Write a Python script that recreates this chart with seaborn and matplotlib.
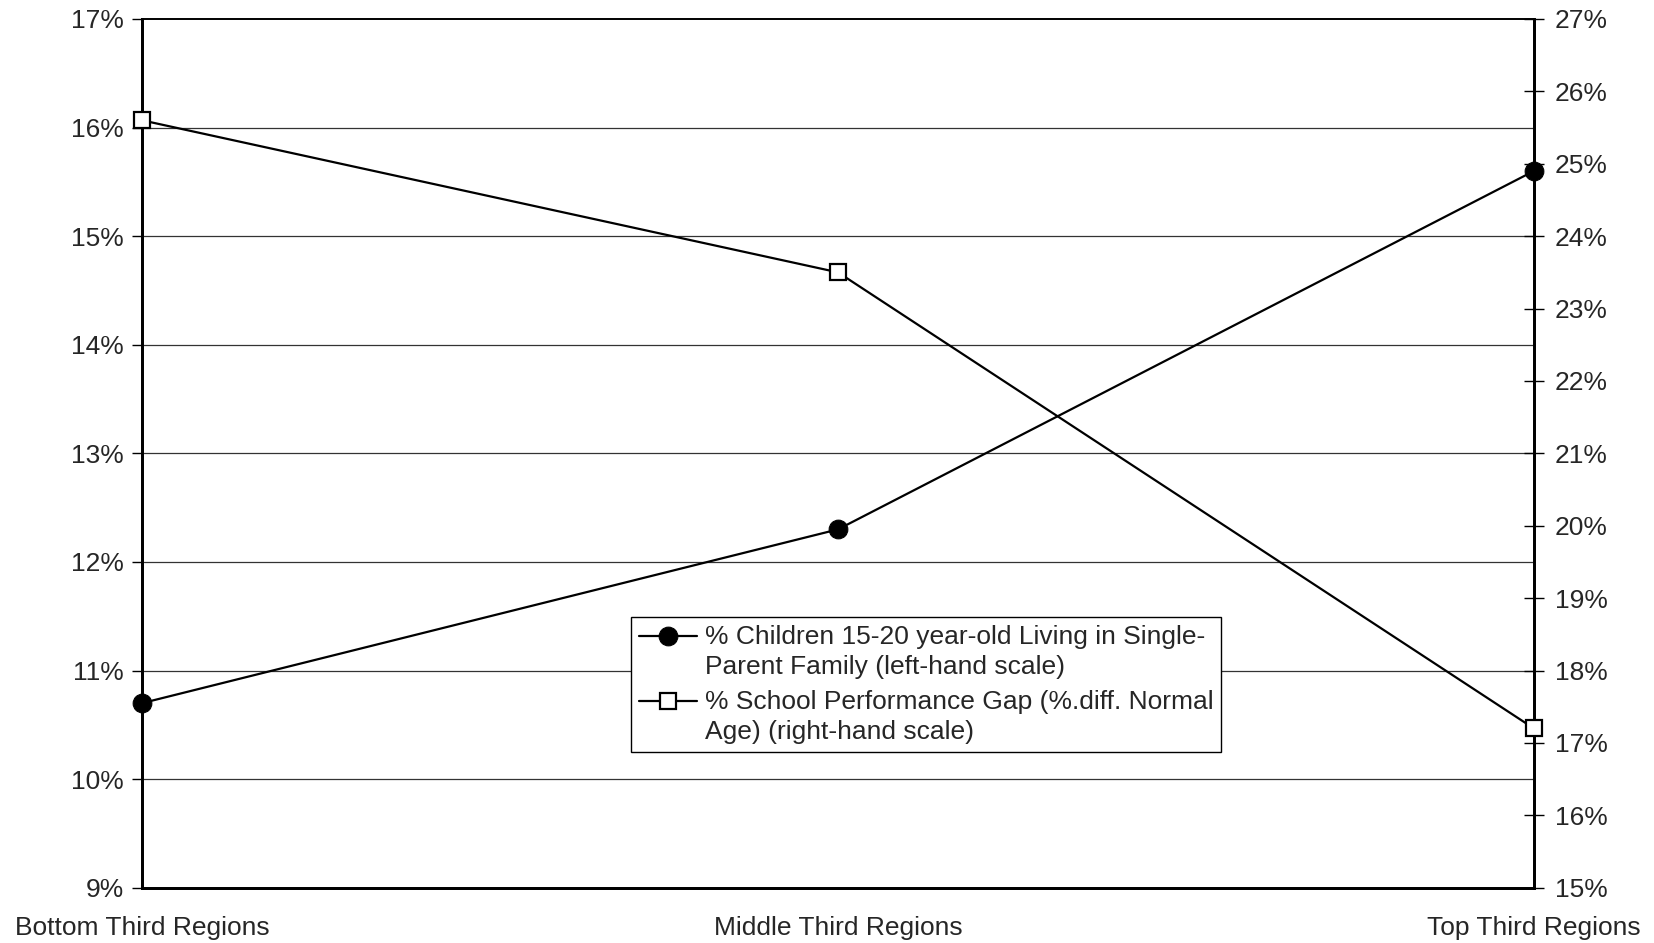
import matplotlib
matplotlib.use('Agg')
import matplotlib.pyplot as plt
import matplotlib.ticker as mticker
from matplotlib.legend_handler import HandlerLine2D
import seaborn as sns
import pandas as pd

regions = ["Bottom Third Regions", "Middle Third Regions", "Top Third Regions"]
single_parent = [10.7, 12.3, 15.6]
school_gap = [25.6, 23.5, 17.2]
label_left = "% Children 15-20 year-old Living in Single-\nParent Family (left-hand scale)"
label_right = "% School Performance Gap (%.diff. Normal\nAge) (right-hand scale)"

sns.set_style("white")
plt.rcParams['font.family'] = ['Liberation Sans', 'DejaVu Sans']
plt.rcParams['font.size'] = 19


class TopLineHandler(HandlerLine2D):
    # put the legend marker on the first text line, like Excel does
    def create_artists(self, legend, orig_handle, xdescent, ydescent, width, height, fontsize, trans):
        artists = super().create_artists(legend, orig_handle, xdescent, ydescent,
                                         width, height, fontsize, trans)
        for a in artists:
            a.set_ydata([y + fontsize * 0.62 for y in a.get_ydata()])
        return artists


df = pd.DataFrame({"Region": regions, "Single": single_parent, "Gap": school_gap})

fig, ax = plt.subplots(figsize=(16.54, 9.43), dpi=100)
fig.subplots_adjust(left=0.0859, right=0.9274, top=0.9799, bottom=0.0586)
ax2 = ax.twinx()

sns.lineplot(data=df, x="Region", y="Single", ax=ax, color="black", linewidth=1.6,
             marker="o", markersize=13.5, markerfacecolor="black", markeredgecolor="black",
             label=label_left, legend=False, sort=False)
sns.lineplot(data=df, x="Region", y="Gap", ax=ax2, color="black", linewidth=1.6,
             marker="s", markersize=11, markerfacecolor="white", markeredgecolor="black",
             markeredgewidth=1.6, label=label_right, legend=False, sort=False)
for line in ax.lines + ax2.lines:
    line.set_clip_on(False)
    line.set_zorder(5)

ax.set_xlim(0, 2)
ax.set_ylim(9, 17)
ax2.set_ylim(15, 27)
ax.set_yticks(range(9, 18))
ax2.set_yticks(range(15, 28))
fmt = mticker.FuncFormatter(lambda v, p: f"{v:.0f}%")
ax.yaxis.set_major_formatter(fmt)
ax2.yaxis.set_major_formatter(fmt)

for y in range(10, 17):
    ax.axhline(y, color="#333333", linewidth=0.9, zorder=0)

ax.set_xlabel("")
ax.set_ylabel("")
ax2.set_ylabel("")
for a in (ax, ax2):
    for s in a.spines.values():
        s.set_color("black")
        s.set_linewidth(2)
    a.spines["top"].set_linewidth(1.2)
ax.tick_params(axis="y", direction="out", length=7, width=1, labelsize=19, pad=6, color="black")
ax.tick_params(axis="x", direction="out", length=7, width=1, labelsize=19, pad=13, color="#888888")
ax2.tick_params(axis="y", direction="inout", length=14, width=1, labelsize=19, pad=8, color="black")

h1, l1 = ax.get_legend_handles_labels()
h2, l2 = ax2.get_legend_handles_labels()
leg = ax2.legend(h1 + h2, l1 + l2, loc="upper left", bbox_to_anchor=(0.3815, 0.3457),
                 bbox_transform=fig.transFigure, borderaxespad=0, fancybox=False,
                 framealpha=1, edgecolor="black", fontsize=19, handlelength=2.2,
                 handletextpad=0.3, labelspacing=0.45, borderpad=0.3,
                 handler_map={h: TopLineHandler() for h in h1 + h2})
for t in leg.get_texts():
    t.set_linespacing(1.3)
leg.get_frame().set_linewidth(1)
leg.set_zorder(10)

plt.savefig("out.png", dpi=100)
plt.close()
